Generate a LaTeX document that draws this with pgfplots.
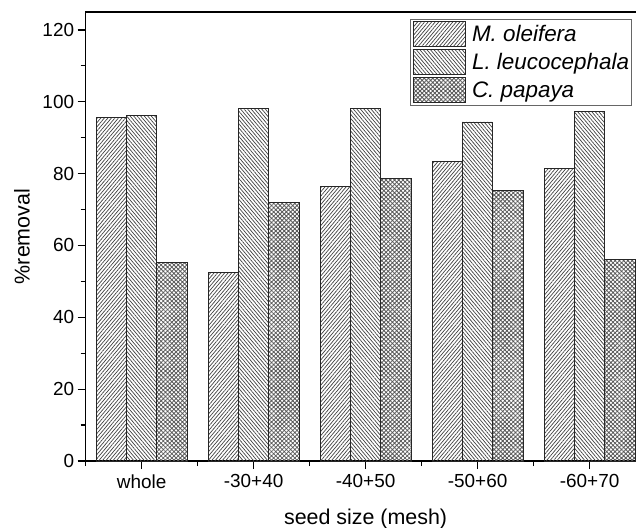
\documentclass[border=0pt]{standalone}
\usepackage{pgfplots}
\pgfplotsset{compat=1.18}
\usepackage{fontspec}
\setmainfont{Liberation Sans}
\usetikzlibrary{patterns.meta}

\pgfplotstableread{
x M L C
0 95.6 96.1 55.3
1 52.4 98.1 71.9
2 76.4 98.2 78.6
3 83.4 94.4 75.3
4 81.5 97.3 56.0
}\datatable

\newcommand{\swatchbox}{\pgfpathrectangle{\pgfpoint{-1bp}{-14bp}}{\pgfpoint{59bp}{28bp}}\pgfusepath{}}

\begin{document}
\begin{tikzpicture}
\useasboundingbox (-85.6bp,-67bp) rectangle (550.4bp,461bp);
\begin{axis}[
  at={(0,0)}, anchor=south west,
  scale only axis, width=560bp, height=449bp,
  ybar=0pt, bar width=0.27,
  xmin=-0.5, xmax=4.5, ymin=0, ymax=125,
  xtick={0,1,2,3,4}, xticklabels={whole,-30+40,-40+50,-50+60,-60+70},
  minor xtick={-0.5,0.5,1.5,2.5,3.5,4.5},
  ytick={0,20,...,120}, minor ytick={10,30,...,110},
  tick align=outside, xtick pos=left, ytick pos=left,
  major tick length=8bp, minor tick length=5bp,
  every tick/.style={black, line width=1.2bp},
  axis line style={line width=1.5bp},
  /pgf/number format/assume math mode=true,
  tick label style={font=\fontsize{19}{22}\selectfont},
  xticklabel style={yshift=-2bp},
  every axis x label/.style={at={(rel axis cs:0.5,0)}, anchor=base, yshift=-63bp, font=\fontsize{21.5}{25}\selectfont},
  every axis y label/.style={at={(rel axis cs:0,0.5)}, anchor=center, xshift=-63.6bp, rotate=90, font=\fontsize{21.5}{25}\selectfont},
  xlabel={seed size (mesh)},
  ylabel={\%removal},
  legend cell align=left,
  legend style={at={(0.9757,0.985)}, anchor=north east, draw=black!60, line width=0.8bp,
    font=\fontsize{22.5}{26}\selectfont\itshape, inner xsep=2bp, inner ysep=1bp,
    nodes={inner sep=0.5bp}},
]
\addplot[draw=black!85, line width=0.8bp, pattern={Lines[angle=50,distance=2.7bp,line width=0.7bp]}, pattern color=black!75,
  legend image code/.code={\swatchbox\draw[draw=black!85, line width=0.8bp, pattern={Lines[angle=50,distance=2.7bp,line width=0.7bp]}, pattern color=black!75] (0bp,-12.5bp) rectangle (52bp,12.5bp);}]
  table[x=x,y=M]{\datatable};
\addlegendentry{M. oleifera}
\addplot[draw=black!85, line width=0.8bp, pattern={Lines[angle=-50,distance=2.7bp,line width=0.7bp]}, pattern color=black!75,
  legend image code/.code={\swatchbox\draw[draw=black!85, line width=0.8bp, pattern={Lines[angle=-50,distance=2.7bp,line width=0.7bp]}, pattern color=black!75] (0bp,-12.5bp) rectangle (52bp,12.5bp);}]
  table[x=x,y=L]{\datatable};
\addlegendentry{L. leucocephala}
\addplot[draw=black!85, line width=0.8bp, pattern={Hatch[angle=45,distance=3bp,line width=0.8bp]}, pattern color=black!65,
  legend image code/.code={\swatchbox\draw[draw=black!85, line width=0.8bp, pattern={Hatch[angle=45,distance=3bp,line width=0.8bp]}, pattern color=black!65] (0bp,-12.5bp) rectangle (52bp,12.5bp);}]
  table[x=x,y=C]{\datatable};
\addlegendentry{C. papaya}
\end{axis}
\end{tikzpicture}
\end{document}
